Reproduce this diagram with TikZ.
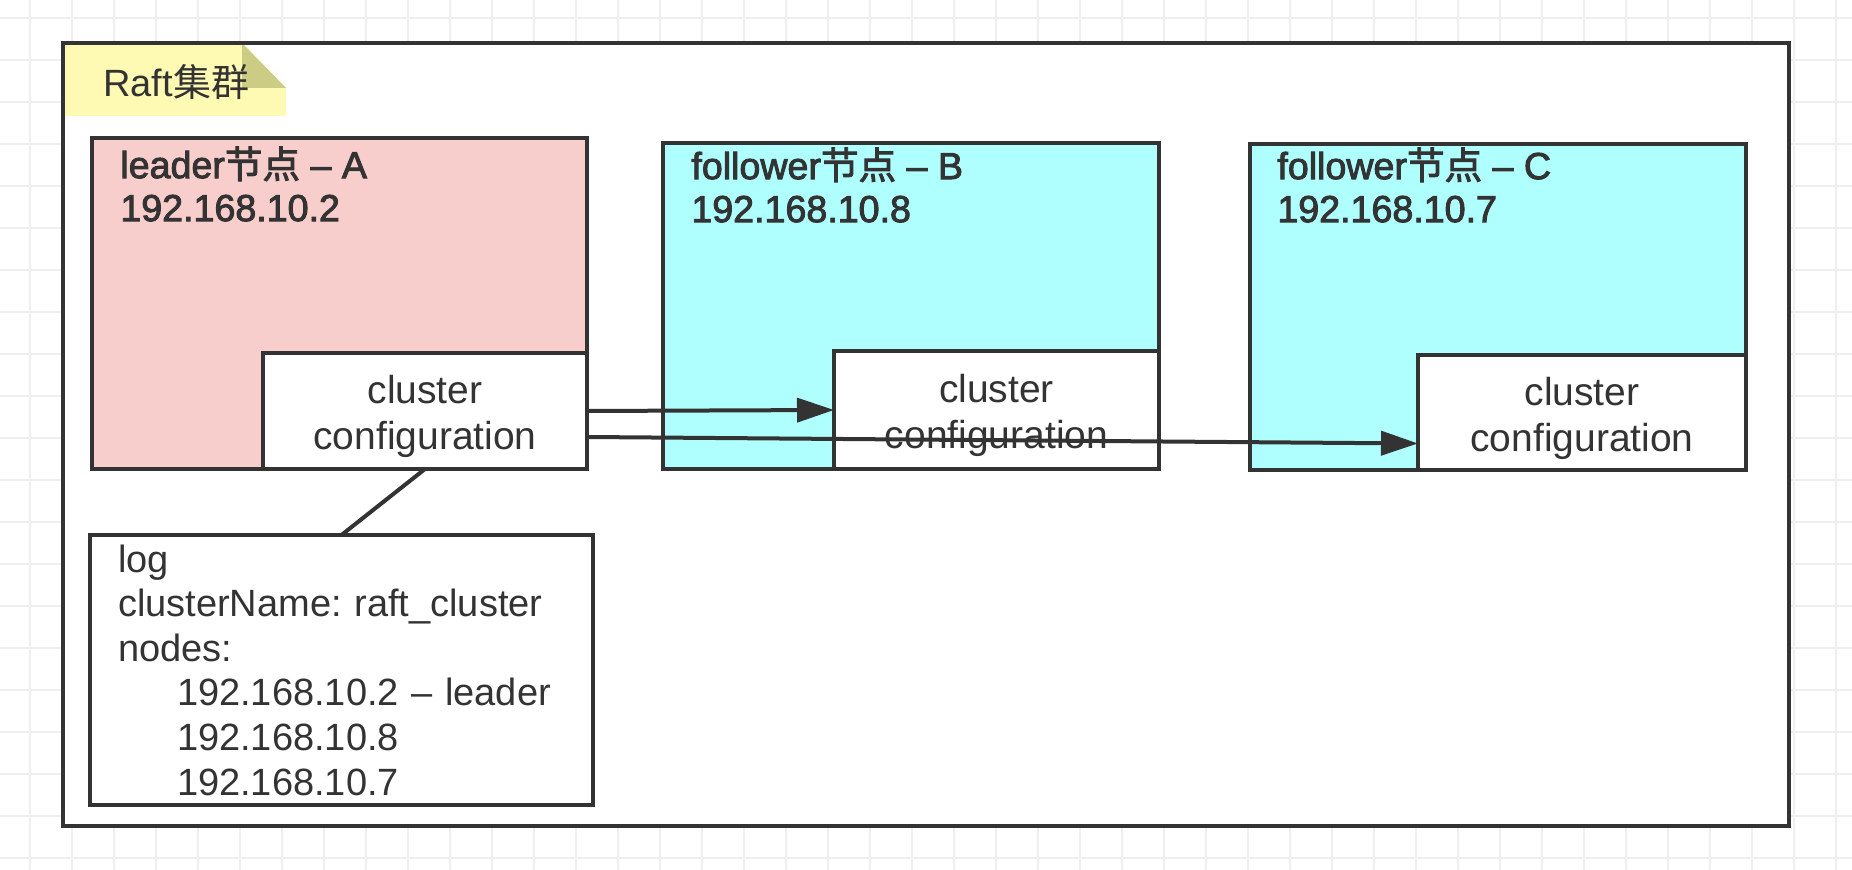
\documentclass[tikz,border=0pt]{standalone}
\usepackage{fontspec}
\setmainfont{Liberation Sans}
\newfontfamily\cjk{Noto Sans CJK SC}
\newfontfamily\medium{Liberation Sans}[FakeBold=2.5]
\newfontfamily\cjkmedium{Noto Sans CJK SC}[FakeBold=2.5]
\usetikzlibrary{arrows.meta}

\definecolor{ink}{HTML}{333333}
\definecolor{gridgray}{HTML}{EFEFEF}
\definecolor{leaderpink}{HTML}{F8CECC}
\definecolor{followercyan}{HTML}{B0FFFF}
\definecolor{noteyellow}{HTML}{FFFAB3}
\definecolor{notefold}{HTML}{CDCC84}

\begin{document}
\frenchspacing
\begin{tikzpicture}[x=0.5pt,y=-0.5pt,%
  gridline/.style={draw=gridgray,line width=1pt},
  frame/.style={draw=ink,line width=2pt},
  box/.style={draw=ink,line width=2pt,rectangle,inner sep=0pt,outer sep=0pt},
  cfgbox/.style={box,fill=white,align=center,text=ink,font=\fontsize{19.5}{23}\selectfont},
  hostlabel/.style={anchor=west,align=left,inner sep=0pt,text=ink,font=\medium\fontsize{18.8}{21.5}\selectfont},
  arr/.style={draw=ink,line width=2pt,-{Triangle[length=18.5pt,width=12pt]}}]
  \useasboundingbox (0,0) rectangle (1852,870);
  \foreach \gx in {30,72,...,1850} \draw[gridline] (\gx,0) -- (\gx,870);
  \foreach \gy in {18,60,...,870} \draw[gridline] (0,\gy) -- (1852,\gy);

  \fill[white] (63,43) rectangle (1789,826);
  \fill[noteyellow] (63,43) -- (242,43) -- (286,88) -- (286,116) -- (63,116) -- cycle;
  \fill[notefold] (242,43) -- (286,88) -- (242,88) -- cycle;
  \draw[frame] (63,43) rectangle (1789,826);
  \node[anchor=west,inner sep=0pt,text=ink,font=\fontsize{19}{22}\selectfont] (raft) at (103,82) {Raft{\cjk 集群}};

  \node[box,fill=leaderpink,minimum width=247.5pt,minimum height=165.5pt] (nodeA) at (339.5,303.5) {};
  \node[cfgbox,minimum width=162pt,minimum height=58pt] (cfgA) at (425,411) {\rule{0pt}{20pt}cluster\\configuration};
  \node[hostlabel] (labelA) at (120,184) {leader{\cjkmedium 节点} – A\\192.168.10.2};

  \node[box,fill=followercyan,minimum width=248pt,minimum height=163pt] (nodeB) at (911,306) {};
  \node[cfgbox,minimum width=162.5pt,minimum height=59pt] (cfgB) at (996.5,410) {\rule{0pt}{20pt}cluster\\configuration};
  \node[hostlabel] (labelB) at (691,185) {follower{\cjkmedium 节点} – B\\192.168.10.8};

  \node[box,fill=followercyan,minimum width=248pt,minimum height=163pt] (nodeC) at (1498,307) {};
  \node[cfgbox,minimum width=164pt,minimum height=57.5pt] (cfgC) at (1582,412.5) {\rule{0pt}{20pt}cluster\\configuration};
  \node[hostlabel] (labelC) at (1277,185) {follower{\cjkmedium 节点} – C\\192.168.10.7};

  \node[box,fill=white,minimum width=251.5pt,minimum height=135pt,text width=223.5pt,inner xsep=14pt,
    align=left,text=ink,font=\fontsize{19}{22.3}\selectfont] (logbox) at (341.5,670)
    {log\\clusterName: raft\_cluster\\nodes:\\
     \hspace*{29.5pt}192.168.10.2 – leader\\
     \hspace*{29.5pt}192.168.10.8\\
     \hspace*{29.5pt}192.168.10.7};

  \draw[frame] (cfgA.south) -- (logbox.north);
  \draw[arr] (cfgA.east) -- (cfgB.west);
  \draw[arr] ([yshift=-13pt]cfgA.east) -- ([yshift=-15.5pt]cfgC.west);
\end{tikzpicture}
\end{document}
